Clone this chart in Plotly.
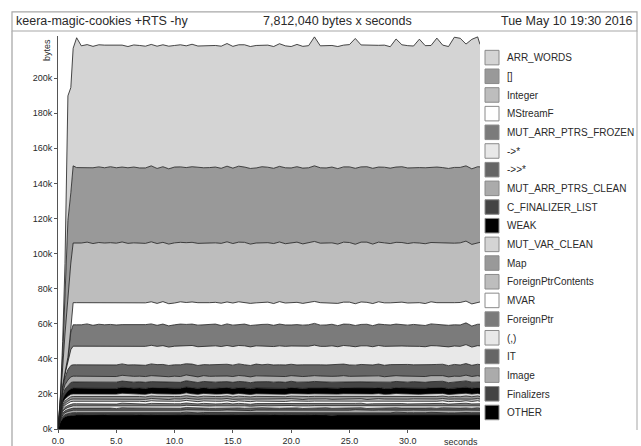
import plotly.graph_objects as go

# ---------------- data (values in kB) ----------------
TIME = [0, 0.2, 0.4, 0.6, 0.85, 1.1, 1.3, 1.6,
        2.0, 2.5, 3.0, 3.5, 4.0, 4.5, 5.0, 5.5, 6.0, 6.5, 7.0, 7.5, 8.0, 8.5, 9.0, 9.5,
        10.0, 10.5, 11.0, 11.5, 12.0, 12.5, 13.0, 13.5, 14.0, 14.5, 15.0, 15.5, 16.0, 16.5,
        17.0, 17.5, 18.0, 18.5, 19.0, 19.5, 20.0, 20.5, 21.0, 21.5, 22.0, 22.5, 23.0, 23.5,
        24.0, 24.5, 25.0, 25.5, 26.0, 26.5, 27.0, 27.5, 28.0, 28.5, 29.0, 29.5, 30.0, 30.5,
        31.0, 31.5, 32.0, 32.5, 33.0, 33.5, 34.0, 34.5, 35.0, 35.5, 36.0, 36.2]

ARR_WORDS = [0, 1.0, 8.0, 20.0, 71.0, 60.0, 67.0, 74.0,
    69.4, 69.8, 69.2, 69.6, 69.9, 69.3, 69.7, 69.5, 69.1, 69.6,
    69.8, 69.4, 69.2, 69.7, 69.5, 69.9, 69.3, 69.6, 69.4, 69.8,
    69.2, 69.5, 69.7, 69.3, 69.6, 69.9, 69.4, 69.2, 69.7, 69.5,
    69.8, 69.3, 69.6, 69.4, 69.9, 69.5, 69.2, 69.7, 69.4, 69.6,
    73.5, 69.5, 69.8, 69.3, 69.6, 69.4, 69.7, 74.0, 69.5, 69.3,
    69.8, 69.4, 69.6, 69.2, 73.0, 69.5, 69.7, 69.3, 73.2, 69.6,
    69.4, 73.5, 69.8, 69.5, 74.2, 73.6, 69.4, 73.8, 74.0, 69.8]
LIST = [0, 1.0, 7.0, 20.0, 43.0, 40.0, 44.0, 43.0,
    43.0, 42.8, 43.2, 43.1, 42.9, 43.3, 43.0, 42.7, 43.1, 43.2,
    42.9, 43.0, 43.3, 42.8, 43.1, 42.9, 43.2, 43.0, 42.8, 43.1,
    43.3, 42.9, 43.0, 43.2, 42.8, 43.1, 43.0, 43.3, 42.9, 43.1,
    42.8, 43.2, 43.0, 42.9, 43.1, 43.3, 42.8, 43.0, 43.2, 42.9,
    43.1, 43.0, 42.8, 43.2, 43.0, 42.9, 43.1, 43.3, 42.9, 43.0,
    43.2, 42.8, 43.1, 43.0, 42.9, 43.2, 43.1, 42.8, 43.0, 43.3,
    42.9, 43.1, 43.0, 42.8, 43.2, 43.0, 42.9, 43.1, 43.2, 43.0]
INTEGER = [0, 2.0, 10.0, 22.0, 35.0, 37.4, 34.0, 34.0,
    34.0, 34.2, 33.8, 34.1, 33.9, 34.2, 34.0, 34.3, 33.8, 34.1,
    34.0, 33.9, 34.2, 34.1, 33.8, 34.0, 34.3, 33.9, 34.1, 34.0,
    33.8, 34.2, 34.0, 33.9, 34.1, 34.3, 33.9, 34.0, 34.2, 33.8,
    34.1, 34.0, 33.9, 34.2, 34.0, 33.8, 34.1, 34.3, 33.9, 34.0,
    34.2, 33.9, 34.1, 34.0, 33.8, 34.2, 34.0, 33.9, 34.1, 34.3,
    33.9, 34.0, 34.2, 33.8, 34.1, 34.0, 33.9, 34.2, 34.0, 34.1,
    33.8, 34.2, 34.0, 34.1, 33.9, 34.0, 34.2, 33.9, 34.1, 34.0]
MSTREAMF = [0, 0, 0, 0, 0, 2.0, 12.6, 12.6,
    12.6, 12.4, 12.8, 12.5, 12.7, 12.4, 12.6, 12.8, 12.5, 12.6,
    12.7, 12.4, 12.6, 12.5, 12.8, 12.6, 12.4, 12.7, 12.5, 12.6,
    12.8, 12.5, 12.6, 12.4, 12.7, 12.5, 12.6, 12.8, 12.4, 12.6,
    12.5, 12.7, 12.6, 12.4, 12.8, 12.5, 12.6, 12.7, 12.4, 12.6,
    12.5, 12.8, 12.6, 12.4, 12.7, 12.5, 12.6, 12.4, 12.8, 12.5,
    12.6, 12.7, 12.4, 12.6, 12.5, 12.8, 12.6, 12.4, 12.7, 12.5,
    12.6, 12.4, 12.7, 12.5, 12.6, 12.8, 12.4, 12.6, 12.5, 12.7]
FROZEN = [0, 0, 0, 1.0, 3.0, 10.0, 12.2, 12.2,
    12.2, 12.4, 12.0, 12.3, 12.1, 12.4, 12.2, 12.0, 12.3, 12.2,
    12.1, 12.4, 12.2, 12.0, 12.3, 12.1, 12.2, 12.4, 12.0, 12.2,
    12.3, 12.1, 12.2, 12.4, 12.0, 12.3, 12.2, 12.1, 12.4, 12.2,
    12.0, 12.3, 12.2, 12.1, 12.4, 12.2, 12.0, 12.3, 12.1, 12.2,
    12.4, 12.1, 12.2, 12.3, 12.0, 12.2, 12.4, 12.1, 12.2, 12.3,
    12.0, 12.2, 12.4, 12.1, 12.3, 12.2, 12.0, 12.3, 12.2, 12.1,
    12.4, 12.2, 12.0, 12.3, 12.1, 12.2, 12.4, 12.0, 12.2, 12.3]
ARROW = [0, 0.5, 1.0, 2.0, 4.0, 9.0, 10.6, 10.6,
    10.6, 10.8, 10.4, 10.7, 10.5, 10.8, 10.6, 10.4, 10.7, 10.6,
    10.5, 10.8, 10.6, 10.4, 10.7, 10.5, 10.6, 10.8, 10.4, 10.6,
    10.7, 10.5, 10.6, 10.8, 10.4, 10.7, 10.6, 10.5, 10.8, 10.6,
    10.4, 10.7, 10.6, 10.5, 10.8, 10.6, 10.4, 10.7, 10.5, 10.6,
    10.8, 10.5, 10.6, 10.7, 10.4, 10.6, 10.8, 10.5, 10.6, 10.7,
    10.4, 10.6, 10.8, 10.5, 10.7, 10.6, 10.4, 10.7, 10.6, 10.5,
    10.8, 10.6, 10.4, 10.7, 10.5, 10.6, 10.8, 10.4, 10.6, 10.7]
BIND = [0, 1.0, 3.0, 4.0, 6.0, 6.5, 6.5, 6.5,
    6.5, 6.6, 6.4, 6.5, 6.7, 6.4, 6.6, 6.5, 6.3, 6.6,
    6.5, 6.4, 6.7, 6.5, 6.6, 6.4, 6.5, 6.7, 6.4, 6.6,
    6.5, 6.3, 6.6, 6.5, 6.4, 6.7, 6.5, 6.6, 6.4, 6.5,
    6.7, 6.4, 6.6, 6.5, 6.3, 6.6, 6.5, 6.4, 6.7, 6.5,
    6.6, 6.4, 6.5, 6.7, 6.4, 6.6, 6.5, 6.3, 6.6, 6.5,
    6.4, 6.7, 6.5, 6.6, 6.4, 6.5, 6.7, 6.4, 6.6, 6.5,
    6.3, 6.6, 6.5, 6.4, 6.7, 6.5, 6.6, 6.4, 6.5, 6.6]
MUT_CLEAN = [0, 1.0, 2.0, 2.5, 3.0, 3.2, 3.3, 3.3,
    3.3, 3.4, 3.2, 3.3, 3.4, 3.3, 3.2, 3.3, 3.4, 3.3,
    3.2, 3.3, 3.4, 3.3, 3.3, 3.2, 3.4, 3.3, 3.3, 3.4,
    3.2, 3.3, 3.3, 3.4, 3.3, 3.2, 3.3, 3.4, 3.3, 3.3,
    3.4, 3.2, 3.3, 3.3, 3.4, 3.3, 3.2, 3.4, 3.3, 3.3,
    3.3, 3.4, 3.2, 3.3, 3.3, 3.4, 3.3, 3.2, 3.3, 3.4,
    3.3, 3.3, 3.2, 3.4, 3.3, 3.3, 3.4, 3.2, 3.3, 3.3,
    3.4, 3.3, 3.2, 3.3, 3.4, 3.3, 3.3, 3.2, 3.4, 3.3]
C_FIN_LIST = [0, 1.0, 2.0, 3.0, 3.3, 3.5, 3.5, 3.5,
    3.5, 3.4, 3.6, 3.5, 3.5, 3.4, 3.6, 3.5, 3.4, 3.5,
    3.6, 3.5, 3.4, 3.5, 3.6, 3.5, 3.5, 3.4, 3.6, 3.5,
    3.4, 3.5, 3.6, 3.5, 3.5, 3.4, 3.5, 3.6, 3.5, 3.4,
    3.5, 3.6, 3.5, 3.4, 3.5, 3.5, 3.6, 3.4, 3.5, 3.5,
    3.6, 3.5, 3.4, 3.5, 3.6, 3.5, 3.4, 3.5, 3.5, 3.6,
    3.5, 3.4, 3.5, 3.6, 3.5, 3.5, 3.4, 3.6, 3.5, 3.4,
    3.5, 3.5, 3.6, 3.4, 3.5, 3.5, 3.6, 3.5, 3.4, 3.5]
WEAK = [0, 1.0, 2.0, 2.5, 3.0, 3.2, 3.3, 3.3,
    3.3, 3.2, 3.3, 3.4, 3.3, 3.3, 3.2, 3.4, 3.3, 3.3,
    3.4, 3.3, 3.2, 3.3, 3.3, 3.4, 3.3, 3.2, 3.3, 3.4,
    3.3, 3.3, 3.2, 3.3, 3.4, 3.3, 3.3, 3.2, 3.4, 3.3,
    3.3, 3.4, 3.3, 3.2, 3.3, 3.3, 3.4, 3.3, 3.2, 3.3,
    3.4, 3.3, 3.3, 3.2, 3.3, 3.4, 3.3, 3.3, 3.2, 3.3,
    3.3, 3.4, 3.3, 3.2, 3.3, 3.3, 3.4, 3.3, 3.3, 3.2,
    3.3, 3.4, 3.3, 3.3, 3.2, 3.3, 3.4, 3.3, 3.3, 3.3]
MUT_VAR_CLEAN = [0, 0.6, 1.1, 1.3, 1.4, 1.5, 1.5, 1.5,
    1.5, 1.5, 1.6, 1.5, 1.4, 1.5, 1.5, 1.6, 1.5, 1.5,
    1.4, 1.5, 1.6, 1.5, 1.5, 1.5, 1.4, 1.5, 1.6, 1.5,
    1.5, 1.6, 1.5, 1.4, 1.5, 1.5, 1.5, 1.6, 1.5, 1.4,
    1.5, 1.5, 1.6, 1.5, 1.5, 1.4, 1.5, 1.5, 1.6, 1.5,
    1.5, 1.4, 1.5, 1.6, 1.5, 1.5, 1.5, 1.4, 1.5, 1.6,
    1.5, 1.5, 1.4, 1.5, 1.6, 1.5, 1.5, 1.5, 1.4, 1.5,
    1.6, 1.5, 1.5, 1.4, 1.5, 1.5, 1.6, 1.5, 1.5, 1.5]
MAP = [0, 0.6, 1.0, 1.2, 1.3, 1.4, 1.4, 1.4,
    1.4, 1.4, 1.5, 1.4, 1.3, 1.4, 1.4, 1.5, 1.4, 1.4,
    1.3, 1.4, 1.4, 1.5, 1.4, 1.4, 1.3, 1.4, 1.5, 1.4,
    1.4, 1.5, 1.4, 1.3, 1.4, 1.4, 1.4, 1.5, 1.4, 1.3,
    1.4, 1.4, 1.5, 1.4, 1.4, 1.3, 1.4, 1.4, 1.5, 1.4,
    1.4, 1.3, 1.4, 1.5, 1.4, 1.4, 1.4, 1.3, 1.4, 1.5,
    1.4, 1.4, 1.3, 1.4, 1.5, 1.4, 1.4, 1.4, 1.3, 1.4,
    1.5, 1.4, 1.4, 1.3, 1.4, 1.4, 1.5, 1.4, 1.4, 1.4]
FP_CONTENTS = [0, 0.6, 1.0, 1.1, 1.2, 1.3, 1.3, 1.3,
    1.3, 1.3, 1.2, 1.3, 1.4, 1.3, 1.3, 1.2, 1.3, 1.3,
    1.4, 1.3, 1.3, 1.2, 1.3, 1.3, 1.4, 1.3, 1.2, 1.3,
    1.3, 1.2, 1.3, 1.4, 1.3, 1.3, 1.3, 1.2, 1.3, 1.4,
    1.3, 1.3, 1.2, 1.3, 1.3, 1.4, 1.3, 1.3, 1.2, 1.3,
    1.3, 1.4, 1.3, 1.2, 1.3, 1.3, 1.3, 1.4, 1.3, 1.2,
    1.3, 1.3, 1.4, 1.3, 1.2, 1.3, 1.3, 1.3, 1.4, 1.3,
    1.2, 1.3, 1.3, 1.4, 1.3, 1.3, 1.2, 1.3, 1.3, 1.3]
MVAR = [0, 0.6, 1.0, 1.2, 1.3, 1.4, 1.4, 1.4,
    1.4, 1.5, 1.4, 1.4, 1.3, 1.4, 1.5, 1.4, 1.4, 1.3,
    1.4, 1.4, 1.5, 1.4, 1.3, 1.4, 1.4, 1.4, 1.5, 1.4,
    1.3, 1.4, 1.4, 1.5, 1.4, 1.4, 1.3, 1.4, 1.4, 1.5,
    1.4, 1.3, 1.4, 1.4, 1.5, 1.4, 1.4, 1.3, 1.4, 1.4,
    1.5, 1.4, 1.4, 1.3, 1.4, 1.4, 1.5, 1.4, 1.3, 1.4,
    1.4, 1.5, 1.4, 1.4, 1.3, 1.4, 1.4, 1.5, 1.4, 1.4,
    1.3, 1.4, 1.5, 1.4, 1.4, 1.3, 1.4, 1.4, 1.5, 1.4]
FOREIGN_PTR = [0, 0.5, 0.9, 1.0, 1.1, 1.2, 1.2, 1.2,
    1.2, 1.2, 1.3, 1.2, 1.1, 1.2, 1.2, 1.3, 1.2, 1.2,
    1.1, 1.2, 1.3, 1.2, 1.2, 1.1, 1.2, 1.2, 1.3, 1.2,
    1.2, 1.3, 1.2, 1.1, 1.2, 1.2, 1.2, 1.3, 1.2, 1.1,
    1.2, 1.2, 1.3, 1.2, 1.2, 1.1, 1.2, 1.3, 1.2, 1.2,
    1.1, 1.2, 1.2, 1.3, 1.2, 1.2, 1.1, 1.2, 1.3, 1.2,
    1.2, 1.2, 1.1, 1.2, 1.3, 1.2, 1.2, 1.1, 1.2, 1.2,
    1.3, 1.2, 1.2, 1.1, 1.2, 1.2, 1.3, 1.2, 1.2, 1.2]
TUPLE = [0, 0.6, 1.0, 1.1, 1.2, 1.3, 1.3, 1.3,
    1.3, 1.4, 1.3, 1.2, 1.3, 1.3, 1.4, 1.3, 1.3, 1.2,
    1.3, 1.3, 1.4, 1.3, 1.2, 1.3, 1.3, 1.4, 1.3, 1.3,
    1.2, 1.3, 1.3, 1.4, 1.3, 1.3, 1.2, 1.3, 1.4, 1.3,
    1.3, 1.2, 1.3, 1.3, 1.4, 1.3, 1.3, 1.2, 1.3, 1.4,
    1.3, 1.3, 1.2, 1.3, 1.3, 1.4, 1.3, 1.2, 1.3, 1.3,
    1.4, 1.3, 1.3, 1.2, 1.3, 1.4, 1.3, 1.3, 1.2, 1.3,
    1.3, 1.4, 1.3, 1.2, 1.3, 1.3, 1.4, 1.3, 1.3, 1.3]
IT = [0, 0.5, 0.9, 1.0, 1.1, 1.2, 1.2, 1.2,
    1.2, 1.1, 1.2, 1.2, 1.3, 1.2, 1.1, 1.2, 1.2, 1.3,
    1.2, 1.2, 1.1, 1.2, 1.3, 1.2, 1.2, 1.1, 1.2, 1.2,
    1.3, 1.2, 1.1, 1.2, 1.2, 1.3, 1.2, 1.2, 1.1, 1.2,
    1.2, 1.3, 1.2, 1.1, 1.2, 1.2, 1.3, 1.2, 1.2, 1.1,
    1.2, 1.2, 1.3, 1.2, 1.1, 1.2, 1.2, 1.2, 1.3, 1.2,
    1.1, 1.2, 1.2, 1.3, 1.2, 1.2, 1.1, 1.2, 1.3, 1.2,
    1.2, 1.1, 1.2, 1.2, 1.3, 1.2, 1.2, 1.1, 1.2, 1.2]
IMAGE = [0, 0.6, 1.0, 1.2, 1.3, 1.4, 1.4, 1.4,
    1.4, 1.3, 1.4, 1.5, 1.4, 1.4, 1.3, 1.4, 1.5, 1.4,
    1.4, 1.3, 1.4, 1.4, 1.5, 1.4, 1.3, 1.4, 1.4, 1.5,
    1.4, 1.4, 1.3, 1.4, 1.5, 1.4, 1.4, 1.3, 1.4, 1.4,
    1.5, 1.4, 1.3, 1.4, 1.4, 1.5, 1.4, 1.4, 1.3, 1.4,
    1.4, 1.5, 1.4, 1.3, 1.4, 1.4, 1.4, 1.5, 1.4, 1.3,
    1.4, 1.4, 1.5, 1.4, 1.3, 1.4, 1.4, 1.5, 1.4, 1.4,
    1.3, 1.4, 1.4, 1.5, 1.4, 1.3, 1.4, 1.4, 1.5, 1.4]
FINALIZERS = [0, 0.6, 1.0, 1.1, 1.2, 1.3, 1.3, 1.3,
    1.3, 1.3, 1.4, 1.3, 1.2, 1.3, 1.3, 1.4, 1.3, 1.3,
    1.2, 1.3, 1.4, 1.3, 1.3, 1.2, 1.3, 1.3, 1.4, 1.3,
    1.3, 1.4, 1.3, 1.2, 1.3, 1.3, 1.3, 1.4, 1.3, 1.2,
    1.3, 1.3, 1.4, 1.3, 1.3, 1.2, 1.3, 1.4, 1.3, 1.3,
    1.2, 1.3, 1.3, 1.4, 1.3, 1.3, 1.2, 1.3, 1.4, 1.3,
    1.3, 1.3, 1.2, 1.3, 1.4, 1.3, 1.3, 1.2, 1.3, 1.3,
    1.4, 1.3, 1.3, 1.2, 1.3, 1.3, 1.4, 1.3, 1.3, 1.3]
OTHER = [0, 4.0, 6.0, 7.0, 7.5, 7.8, 8.0, 8.0,
    8.0, 8.1, 7.9, 8.0, 8.2, 8.0, 7.9, 8.1, 8.0, 8.0,
    8.2, 7.9, 8.0, 8.1, 8.0, 7.9, 8.1, 8.0, 8.2, 8.0,
    7.9, 8.0, 8.1, 8.0, 7.9, 8.2, 8.0, 8.1, 8.0, 7.9,
    8.0, 8.1, 8.0, 8.2, 7.9, 8.0, 8.1, 8.0, 7.9, 8.0,
    8.2, 8.0, 8.1, 7.9, 8.0, 8.0, 8.1, 8.2, 8.0, 7.9,
    8.0, 8.1, 8.0, 7.9, 8.2, 8.0, 8.0, 8.1, 7.9, 8.0,
    8.1, 8.0, 8.2, 8.0, 7.9, 8.1, 8.0, 8.0, 8.1, 8.0]

# legend order = band order, top to bottom
NAMES = ["ARR_WORDS", "[]", "Integer", "MStreamF", "MUT_ARR_PTRS_FROZEN", "->*", "->>*",
         "MUT_ARR_PTRS_CLEAN", "C_FINALIZER_LIST", "WEAK", "MUT_VAR_CLEAN", "Map",
         "ForeignPtrContents", "MVAR", "ForeignPtr", "(,)", "IT", "Image", "Finalizers", "OTHER"]
SERIES = [ARR_WORDS, LIST, INTEGER, MSTREAMF, FROZEN, ARROW, BIND, MUT_CLEAN, C_FIN_LIST, WEAK,
          MUT_VAR_CLEAN, MAP, FP_CONTENTS, MVAR, FOREIGN_PTR, TUPLE, IT, IMAGE, FINALIZERS, OTHER]
SHADES = ["#d4d4d4", "#999999", "#bdbdbd", "#ffffff", "#7b7b7b", "#e8e8e8", "#666666",
          "#ababab", "#444444", "#000000"] * 2

Y_TICKS = [0, 20, 40, 60, 80, 100, 120, 140, 160, 180, 200]
Y_TICK_TEXT = ["0k", "20k", "40k", "60k", "80k", "100k", "120k", "140k", "160k", "180k", "200k"]
X_TICKS = [0, 5, 10, 15, 20, 25, 30]
X_TICK_TEXT = ["0.0", "5.0", "10.0", "15.0", "20.0", "25.0", "30.0"]

TITLE_LEFT = "keera-magic-cookies +RTS -hy"
TITLE_MID = "7,812,040 bytes x seconds"
TITLE_RIGHT = "Tue May 10 19:30 2016"

for s in SERIES:
    assert len(s) == len(TIME), len(s)

# ---------------- layout ----------------
# Target positions are given in 641x446 picture pixels; the figure is made slightly
# taller (SY) because the capture comes out vertically squeezed by the same factor.
REF_W, REF_H = 641, 446
SY = 458 / 446
W, H = REF_W, round(REF_H * SY)
PL, PR, PT, PB = 58, 480, 35, 427          # plot area in picture pixels
ML, MR = PL, REF_W - PR
MT, MB = round(PT * SY), round((REF_H - PB) * SY)
PW, PH = PR - PL, PB - PT
FONT = "Liberation Sans, Arial, sans-serif"
TXT = "#2a2a2a"


def px(x):
    return (x - PL) / PW


def py(y):
    return (PB - y) / PH


fig = go.Figure()
for name, vals, col in reversed(list(zip(NAMES, SERIES, SHADES))):
    fig.add_trace(go.Scatter(
        x=TIME, y=vals, name=name, mode="lines", stackgroup="heap",
        line=dict(color="#1c1c1c", width=0.8), fillcolor=col,
        hoverinfo="skip", showlegend=False))

shapes = []
annotations = []
# outer frame / title box
shapes.append(dict(type="rect", xref="paper", yref="paper", x0=px(12), x1=px(637),
                   y0=py(30), y1=py(11), line=dict(color="#a8a8a8", width=1.2)))
shapes.append(dict(type="line", xref="paper", yref="paper", x0=px(12), x1=px(12),
                   y0=py(30), y1=py(446), line=dict(color="#b4b4b4", width=1.5)))
shapes.append(dict(type="line", xref="paper", yref="paper", x0=px(637), x1=px(637),
                   y0=py(30), y1=py(428), line=dict(color="#b4b4b4", width=1.2)))

annotations.append(dict(text=TITLE_LEFT, x=px(14), y=py(20.5), xref="paper", yref="paper",
                        xanchor="left", yanchor="middle", showarrow=False,
                        font=dict(size=12.5, color=TXT, family=FONT)))
annotations.append(dict(text=TITLE_MID, x=px(337), y=py(20.5), xref="paper", yref="paper",
                        xanchor="center", yanchor="middle", showarrow=False,
                        font=dict(size=12.5, color=TXT, family=FONT)))
annotations.append(dict(text=TITLE_RIGHT, x=px(635), y=py(20.5), xref="paper", yref="paper",
                        xanchor="right", yanchor="middle", showarrow=False,
                        font=dict(size=12.5, color=TXT, family=FONT)))
annotations.append(dict(text="bytes", x=px(47), y=py(49), xref="paper", yref="paper",
                        xanchor="center", yanchor="middle", textangle=-90, showarrow=False,
                        font=dict(size=9, color=TXT, family=FONT)))
annotations.append(dict(text="seconds", x=px(480), y=py(440), xref="paper", yref="paper",
                        xanchor="right", yanchor="middle", showarrow=False,
                        font=dict(size=9, color=TXT, family=FONT)))

# key
for i, (name, col) in enumerate(zip(NAMES, SHADES)):
    top = 49.3 + 18.63 * i
    shapes.append(dict(type="rect", xref="paper", yref="paper", x0=px(485), x1=px(499),
                       y0=py(top + 14.5), y1=py(top), fillcolor=col,
                       line=dict(color="#8a8a8a", width=1)))
    annotations.append(dict(text=name, x=px(505), y=py(top + 7.5), xref="paper", yref="paper",
                            xanchor="left", yanchor="middle", showarrow=False,
                            font=dict(size=10, color=TXT, family=FONT)))

fig.update_layout(
    width=W, height=H, margin=dict(l=ML, r=MR, t=MT, b=MB, pad=0),
    paper_bgcolor="white", plot_bgcolor="white", showlegend=False,
    shapes=shapes, annotations=annotations,
    font=dict(family=FONT, size=9, color=TXT),
    xaxis=dict(range=[0, 36.2], tickvals=X_TICKS, ticktext=X_TICK_TEXT, showgrid=False,
               zeroline=False, showline=True, linecolor="#555555", linewidth=1,
               ticks="outside", ticklen=3, tickcolor="#555555", tickfont=dict(size=9, color=TXT)),
    yaxis=dict(range=[0, 224], tickvals=Y_TICKS, ticktext=Y_TICK_TEXT, showgrid=False,
               zeroline=False, showline=True, linecolor="#555555", linewidth=1,
               ticks="outside", ticklen=3, tickcolor="#555555", tickfont=dict(size=9, color=TXT)),
)

PAGE_FIX = ("document.documentElement.style.margin='0';document.documentElement.style.padding='0';"
            "document.body.style.margin='0';document.body.style.padding='0';"
            "document.body.style.overflow='hidden';document.documentElement.style.overflow='hidden';")
fig.write_html("out.html", post_script=PAGE_FIX, config={"displayModeBar": False})
